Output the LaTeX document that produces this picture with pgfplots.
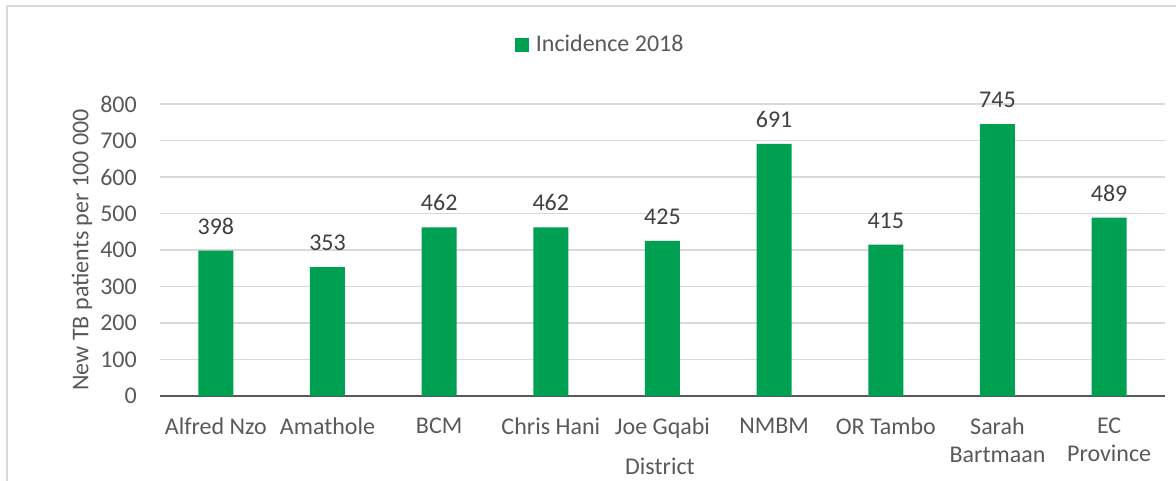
\documentclass[border=0pt]{standalone}
\usepackage{fontspec}
\setmainfont{Carlito}
\usepackage{pgfplots}
\pgfplotsset{compat=1.18}
\definecolor{barg}{RGB}{0,160,82}
\definecolor{txt}{RGB}{89,89,89}
\definecolor{gridc}{RGB}{217,217,217}
\begin{document}
\fontsize{24}{28}\selectfont
\begin{tikzpicture}
\useasboundingbox (0pt,0pt) rectangle (1176pt,480pt);
\draw[gridc, line width=1.5pt] (7pt,-10pt) -- (7pt,474pt) -- (1190pt,474pt);
\begin{axis}[
    at={(160pt,84pt)},
    anchor=south west,
    scale only axis,
    width=1005pt,
    height=292pt,
    ybar,
    bar width=35pt,
    xmin=-0.5, xmax=8.5,
    ymin=0, ymax=800,
    ytick={0,100,...,800},
    xtick=data,
    xticklabels={Alfred Nzo,Amathole,BCM,Chris Hani,Joe Gqabi,NMBM,OR Tambo,{Sarah\\Bartmaan},{EC\\Province}},
    major tick length=0pt,
    ymajorgrids,
    grid style={draw=gridc, line width=1.2pt},
    axis x line*=bottom,
    axis y line*=left,
    y axis line style={draw=none},
    x axis line style={draw=txt, line width=1.2pt},
    font=\fontsize{24}{28}\selectfont,
    /pgf/number format/assume math mode=true,
    ticklabel style={text=txt},
    yticklabel style={inner sep=0pt, xshift=-23pt},
    xticklabel style={align=center, inner sep=0pt, yshift=-22pt, anchor=north},
    xlabel={District},
    ylabel={New TB patients per 100 000},
    xlabel style={text=txt, at={(axis description cs:0.4975,-0.24)}, anchor=center},
    ylabel style={text=txt, at={(axis description cs:-0.0776,0.5)}, anchor=center},
    nodes near coords,
    every node near coord/.append style={text=black!75, font=\fontsize{24}{28}\selectfont, yshift=8pt},
    legend style={draw=none, at={(axis description cs:0.438,1)}, anchor=center, yshift=59pt, text=txt, font=\fontsize{24}{28}\selectfont},
    legend image code/.code={\fill[barg] (0pt,-7pt) rectangle (14pt,7pt); \path (19pt,0pt);},
]
\addplot[fill=barg, draw=none] coordinates {(0,398) (1,353) (2,462) (3,462) (4,425) (5,691) (6,415) (7,745) (8,489)};
\addlegendentry{Incidence 2018}
\end{axis}
\end{tikzpicture}
\end{document}
